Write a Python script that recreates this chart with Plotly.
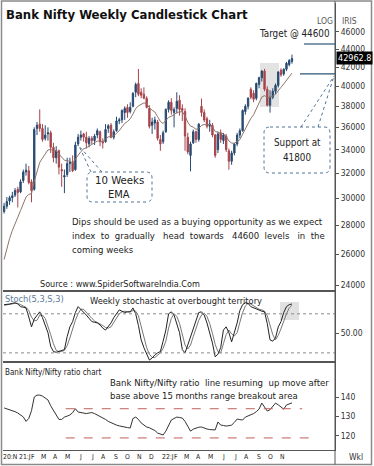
import pandas as pd
import plotly.graph_objects as go

# ---------------- data ----------------
first_week = "2020-11-16"
opens = [29000, 29400, 29800, 30050, 30250, 30700, 30500, 31400, 32100, 32200,
         31300, 30700, 35900, 36300, 35900, 35000, 35400, 35500, 34200, 33300,
         33900, 32300, 31700, 31900, 32800, 32900, 32300, 34500, 35100, 35400,
         35100, 34500, 35000, 34800, 35300, 35600, 34700, 34700, 35900, 36200,
         35100, 35700, 36600, 36700, 37400, 37900, 37500, 38000, 39400, 40300,
         39400, 39200, 38800, 37800, 36200, 36400, 36500, 34900, 34700, 35600,
         37700, 38400, 37400, 37800, 38600, 37800, 37500, 35100, 33500, 34600,
         35600, 34900, 38000, 37400, 36800, 36100, 36200, 35300, 34000, 35500,
         34800, 35200, 33900, 33000, 33700, 34500, 35300, 35700, 37500, 38000,
         39700, 39300, 38800, 40200, 40900, 41600, 39700, 38100, 38900, 39500,
         40100, 41700, 41300, 41800, 42300, 42650]
highs = [29650, 30100, 30200, 30500, 30800, 30900, 31500, 32300, 32800, 32600,
         31500, 36000, 36500, 37700, 36300, 36200, 36000, 35700, 34600, 34300,
         34000, 32800, 32300, 33300, 33300, 33500, 34700, 35400, 35700, 35500,
         35600, 35200, 35200, 35400, 35900, 35700, 35000, 36300, 36300, 36400,
         35800, 37000, 36900, 37700, 38000, 38200, 38400, 39400, 40400, 41829,
         39800, 39900, 39000, 38100, 36900, 37000, 36700, 35300, 35700, 37800,
         38600, 38800, 37900, 39400, 39100, 38200, 37800, 35500, 34700, 35800,
         35700, 36400, 38765, 37700, 37000, 36700, 36400, 35400, 35600, 35800,
         35500, 35400, 34100, 33900, 34600, 35500, 35900, 37700, 38200, 38900,
         39900, 39600, 40400, 41000, 41700, 41840, 40000, 39600, 39800, 40300,
         41600, 41900, 41900, 42600, 42900, 43400]
lows = [28850, 29200, 29500, 29700, 30100, 29300, 30400, 31200, 31800, 31100,
        29700, 30600, 35300, 35600, 34700, 34800, 34800, 33700, 32900, 32800,
        31900, 30900, 30405, 31700, 32100, 32100, 32200, 34300, 34800, 34700,
        34100, 34200, 34500, 34400, 35000, 34300, 34100, 34600, 35500, 35000,
        34900, 35600, 36300, 36400, 36700, 36900, 37300, 37900, 38900, 39000,
        38800, 38700, 37800, 35900, 35400, 35800, 34800, 33900, 34500, 35500,
        37400, 37200, 36000, 37300, 37100, 36600, 33900, 33600, 32155, 34500,
        34600, 34700, 37000, 36500, 35900, 35600, 35100, 33300, 33700, 34600,
        34500, 33800, 32290, 32700, 33500, 34300, 35000, 35600, 37200, 37700,
        38700, 38400, 38600, 39800, 40500, 39500, 38000, 37387, 38700, 39200,
        39900, 41000, 41100, 41600, 42100, 42400]
closes = [29400, 29750, 30050, 30200, 30600, 30450, 31300, 32100, 32250, 31250,
          30600, 35800, 36200, 35900, 34900, 35300, 35500, 34200, 33300, 33900,
          32500, 32200, 31800, 32800, 32900, 32200, 34400, 35100, 35300, 35100,
          34600, 35000, 34800, 35200, 35700, 34700, 34600, 35800, 36150, 35100,
          35600, 36600, 36700, 37600, 37800, 37400, 37900, 39300, 40200, 39200,
          39100, 38800, 37900, 36100, 36500, 36700, 35000, 34500, 35500, 37700,
          38400, 37600, 37700, 38500, 37700, 37600, 35200, 33800, 34500, 35600,
          34900, 36300, 37400, 36700, 36100, 36300, 35300, 33500, 35400, 34900,
          35300, 34000, 33000, 33700, 34500, 35300, 35700, 37600, 38000, 38800,
          38900, 38700, 40300, 40900, 41600, 39700, 38100, 38900, 39500, 40100,
          41500, 41200, 41800, 42450, 42750, 42963]
ema10 = [25636, 26384, 27050, 27623, 28164, 28580, 29074, 29624, 30101, 30310,
         30363, 31351, 32233, 32900, 33264, 33634, 33973, 34014, 33884, 33887,
         33635, 33374, 33088, 33036, 33011, 32864, 33143, 33499, 33826, 34058,
         34157, 34310, 34399, 34545, 34755, 34745, 34719, 34916, 35140, 35133,
         35218, 35469, 35693, 36040, 36360, 36549, 36795, 37250, 37786, 38043,
         38235, 38338, 38258, 37866, 37618, 37451, 37005, 36550, 36359, 36603,
         36930, 37052, 37170, 37412, 37464, 37489, 37073, 36478, 36118, 36024,
         35820, 35907, 36178, 36273, 36242, 36253, 36080, 35611, 35573, 35451,
         35424, 35165, 34771, 34576, 34562, 34696, 34879, 35374, 35851, 36387,
         36844, 37181, 37748, 38321, 38917, 39059, 38885, 38888, 38999, 39199,
         39617, 39905, 40250, 40650, 41032, 41383]
stoch_k = [94, 94, 95, 96, 97, 95, 91, 90, 89, 75,
           60, 72, 78, 83, 74, 62, 51, 30, 22, 21,
           22, 24, 25, 45, 60, 68, 82, 91, 87, 82,
           78, 73, 68, 67, 66, 63, 58, 55, 60, 66,
           74, 80, 86, 84, 82, 83, 83, 89, 80, 62,
           40, 28, 17, 9, 12, 17, 20, 22, 38, 55,
           80, 83, 78, 66, 51, 25, 20, 32, 45, 58,
           70, 82, 83, 78, 66, 50, 35, 14, 18, 28,
           55, 60, 51, 37, 50, 66, 85, 94, 97, 96,
           91, 89, 87, 86, 84, 83, 65, 40, 38, 43,
           60, 68, 82, 91, 94, 95]
stoch_d = [93, 94, 94, 95, 96, 96, 94, 92, 90, 85,
           75, 69, 70, 78, 78, 73, 62, 48, 34, 24,
           22, 22, 24, 31, 43, 58, 70, 80, 87, 87,
           82, 78, 73, 69, 67, 65, 62, 59, 58, 60,
           67, 73, 80, 83, 84, 83, 83, 85, 84, 77,
           61, 43, 28, 18, 13, 13, 16, 20, 27, 38,
           58, 73, 80, 76, 65, 47, 32, 26, 32, 45,
           58, 70, 78, 81, 76, 65, 50, 33, 22, 20,
           34, 48, 55, 49, 46, 51, 67, 82, 92, 96,
           95, 92, 89, 87, 86, 84, 77, 63, 48, 40,
           47, 57, 70, 80, 89, 93]
ratio = [134.4, 134.0, 133.5, 133.0, 132.5, 131.8, 131.0, 129.8, 127.5, 129.0,
         133.0, 140.0, 141.0, 141.0, 140.5, 139.5, 138.5, 135.5, 133.0, 131.0,
         128.5, 128.5, 129.7, 130.2, 130.8, 132.0, 134.0, 132.3, 132.0, 131.8,
         131.5, 131.8, 132.0, 131.5, 130.8, 130.2, 129.2, 128.5, 127.5, 126.8,
         126.2, 125.6, 125.2, 124.8, 124.5, 124.3, 124.1, 129.0, 129.7, 128.5,
         126.7, 125.5, 124.6, 124.2, 123.6, 122.8, 121.5, 120.8, 120.5, 122.5,
         125.0, 128.2, 129.0, 129.7, 129.5, 129.2, 127.5, 125.0, 122.5, 123.5,
         124.1, 124.5, 124.6, 124.0, 123.6, 123.3, 123.1, 123.1, 127.2, 125.6,
         125.4, 125.1, 125.3, 125.6, 127.0, 128.7, 128.4, 128.2, 129.7, 130.2,
         130.8, 131.5, 132.5, 133.8, 136.9, 134.5, 132.8, 133.5, 135.5, 136.9,
         136.0, 135.0, 133.8, 135.9, 136.5, 137.0]
price_ticks = [24000, 26000, 28000, 30000, 32000, 34000, 36000, 38000, 40000, 42000, 44000, 46000]
ratio_ticks = [120, 130, 140]
stoch_levels = [20, 80]
ratio_range_top, ratio_range_bottom = 134, 119
target_level, support_level = 44600, 41300
last_price = "42962.8"
swing_labels = [(49, "41829", "high"), (22, "30405", "low"), (68, "32155", "low"),
                (72, "38765", "high"), (82, "32290", "low"), (95, "41840", "high"),
                (97, "37387", "low")]
month_labels = ["20:N", "21:J", "F", "M", "A", "M", "J", "J", "A", "S", "O", "N", "D",
                "22:J", "F", "M", "A", "M", "J", "J", "A", "S", "O", "N"]
month_starts = (["2020-11-01"]
                + [f"2021-{m:02d}-01" for m in range(1, 13)]
                + [f"2022-{m:02d}-01" for m in range(1, 12)])

# ---------------- layout helpers ----------------
W, H = 374, 466
PL, PR, PT, PB = 3, 335, 3, 450
FONT = "DejaVu Sans Condensed, DejaVu Sans, sans-serif"
UP, DN = "#284a70", "#a8444a"
NB = "\u00a0"

def xp(px):
    return (px - PL) / (PR - PL)

def yp(py):
    return (PB - py) / (PB - PT)

dates = pd.date_range(first_week, periods=len(closes), freq="7D")
t0 = pd.Timestamp(first_week)
def wk(i):
    return t0 + pd.Timedelta(days=7 * i)

x_lo, x_hi = wk(-0.4), wk(120.7)
d_price = [yp(291), 1]
d_stoch = [yp(362), yp(291)]
d_ratio = [0, yp(362)]

fig = go.Figure()
fig.add_trace(go.Candlestick(
    x=dates, open=opens, high=highs, low=lows, close=closes,
    increasing=dict(line=dict(color=UP, width=1), fillcolor=UP),
    decreasing=dict(line=dict(color=DN, width=1), fillcolor=DN),
    whiskerwidth=0, xaxis="x", yaxis="y", showlegend=False, hoverinfo="skip"))
fig.add_trace(go.Scatter(x=dates, y=ema10, mode="lines", line=dict(color="#8e746a", width=1),
                         xaxis="x", yaxis="y", showlegend=False, hoverinfo="skip"))
fig.add_trace(go.Scatter(x=dates, y=stoch_d, mode="lines", line=dict(color="#777777", width=1),
                         xaxis="x2", yaxis="y2", showlegend=False, hoverinfo="skip"))
fig.add_trace(go.Scatter(x=dates, y=stoch_k, mode="lines", line=dict(color="#222222", width=1),
                         xaxis="x2", yaxis="y2", showlegend=False, hoverinfo="skip"))
fig.add_trace(go.Scatter(x=dates, y=ratio, mode="lines", line=dict(color="#333333", width=1),
                         xaxis="x3", yaxis="y3", showlegend=False, hoverinfo="skip"))

axis_common = dict(showgrid=False, zeroline=False, showline=True, linecolor="#555555", linewidth=1)
ytick_common = dict(side="right", ticks="outside", ticklen=3, tickcolor="#555555",
                    tickfont=dict(family=FONT, size=8.5, color="#333333"))
fig.update_layout(
    width=W, height=H, paper_bgcolor="white", plot_bgcolor="white",
    margin=dict(l=PL, r=W - PR, t=PT, b=H - PB),
    xaxis=dict(domain=[0, 1], anchor="y", type="date", range=[x_lo, x_hi], showticklabels=False,
               rangeslider=dict(visible=False), **axis_common),
    xaxis2=dict(domain=[0, 1], anchor="y2", matches="x", showticklabels=False, mirror=True, **axis_common),
    xaxis3=dict(domain=[0, 1], anchor="y3", matches="x", showticklabels=False, mirror=True, **axis_common),
    yaxis=dict(domain=d_price, anchor="x", type="log",
               range=[4.3737, 4.6951], tickvals=price_ticks,
               ticktext=[str(v) for v in price_ticks], **ytick_common, **axis_common),
    yaxis2=dict(domain=d_stoch, anchor="x2", range=[6, 115], tickvals=[50], ticktext=["50.00"],
                **ytick_common, **axis_common),
    yaxis3=dict(domain=d_ratio, anchor="x3", range=[112.8, 158], tickvals=ratio_ticks,
                **ytick_common, **axis_common),
)

shapes = []
# outer frame and right axis divider
shapes.append(dict(type="rect", xref="paper", yref="paper", x0=xp(1.5), x1=xp(371.5), y0=yp(464.5), y1=yp(1),
                   line=dict(color="#8a8a8a", width=1.5), layer="above"))
shapes.append(dict(type="line", xref="paper", yref="paper", x0=1, x1=1, y0=yp(464.5), y1=yp(1),
                   line=dict(color="#555555", width=1)))
# grey highlight boxes
shapes.append(dict(type="rect", xref="paper", yref="paper", x0=xp(260), x1=xp(279), y0=yp(107), y1=yp(63),
                   fillcolor="#d9d9d9", opacity=0.75, line=dict(width=0), layer="below"))
shapes.append(dict(type="rect", xref="paper", yref="paper", x0=xp(280), x1=xp(299), y0=yp(320), y1=yp(302),
                   fillcolor="#dcdcdc", opacity=0.85, line=dict(width=0), layer="below"))
# target / support lines
shapes.append(dict(type="line", xref="paper", yref="y", x0=xp(304), x1=1, y0=target_level, y1=target_level,
                   line=dict(color="#2f5577", width=1.2)))
shapes.append(dict(type="line", xref="paper", yref="y", x0=xp(300), x1=1, y0=support_level, y1=support_level,
                   line=dict(color="#2f5577", width=1.2)))
# stochastic reference levels
for lv in stoch_levels:
    shapes.append(dict(type="line", xref="x2 domain", yref="y2", x0=0, x1=1, y0=lv, y1=lv,
                       line=dict(color="#8a8a8a", width=1, dash="dot")))
# ratio range lines
shapes.append(dict(type="line", xref="x3", yref="y3", x0=wk(22.5), x1=wk(108.7),
                   y0=ratio_range_top, y1=ratio_range_top, line=dict(color="#c0605a", width=1, dash="dash")))
shapes.append(dict(type="line", xref="x3", yref="y3", x0=wk(22.5), x1=wk(111.6),
                   y0=ratio_range_bottom, y1=ratio_range_bottom, line=dict(color="#c0605a", width=1, dash="dash")))

def rounded_box(x0, y0, x1, y1, r=6):
    X0, X1 = xp(x0), xp(x1)
    Y0, Y1 = yp(y0), yp(y1)
    rx = r / (PR - PL)
    ry = r / (PB - PT)
    return (f"M {X0+rx},{Y0} L {X1-rx},{Y0} Q {X1},{Y0} {X1},{Y0-ry} "
            f"L {X1},{Y1+ry} Q {X1},{Y1} {X1-rx},{Y1} L {X0+rx},{Y1} "
            f"Q {X0},{Y1} {X0},{Y1+ry} L {X0},{Y0-ry} Q {X0},{Y0} {X0+rx},{Y0} Z")

callout = dict(color="#4f7396", width=1, dash="dot")
shapes.append(dict(type="path", xref="paper", yref="paper", path=rounded_box(87, 172, 152, 202),
                   line=callout, fillcolor="white"))
shapes.append(dict(type="line", xref="paper", yref="paper", x0=xp(91), y0=yp(172), x1=xp(79), y1=yp(146), line=callout))
shapes.append(dict(type="line", xref="paper", yref="paper", x0=xp(102), y0=yp(172), x1=xp(79), y1=yp(146), line=callout))
shapes.append(dict(type="path", xref="paper", yref="paper", path=rounded_box(264, 127, 330, 173),
                   line=callout, fillcolor="white"))
shapes.append(dict(type="line", xref="paper", yref="paper", x0=xp(301), y0=yp(127), x1=xp(334), y1=yp(76), line=callout))
shapes.append(dict(type="line", xref="paper", yref="paper", x0=xp(318), y0=yp(127), x1=xp(334), y1=yp(76), line=callout))
fig.update_layout(shapes=shapes)

anns = []
def ann(text, x, y, size=9.5, color="#222222", xanchor="left", yanchor="middle", bold=False, **kw):
    t = f"<b>{text}</b>" if bold else text
    d = dict(text=t, xref="paper", yref="paper", x=xp(x), y=yp(y), xanchor=xanchor, yanchor=yanchor,
             showarrow=False, font=dict(family=FONT, size=size, color=color))
    d.update(kw)
    anns.append(d)

def spread(words, extra):
    out = words[0]
    for w, e in zip(words[1:], extra):
        out += " " + NB * e + w
    return out

ann("Bank Nifty Weekly Candlestick Chart", 4, 15, size=13, color="#111111", bold=True)
ann("LOG", 325, 21, size=8.5, color="#555555", xanchor="center")
ann("IRIS", 349, 21, size=8.5, color="#555555", xanchor="center")
ann("Target @ 44600", 294, 33, size=9.8, xanchor="center")
ann(last_price, 336, 58.5, size=9, color="white", bgcolor="black", borderpad=1)
ann("10 Weeks", 119.5, 180, size=11.3, xanchor="center")
ann("EMA", 119.5, 194, size=11, xanchor="center")
ann("Support at", 297, 143, size=9.8, xanchor="center")
ann("41800", 297, 157, size=9.8, xanchor="center")
ann("Dips should be used as a buying opportunity as we expect", 70, 221, size=9.5)
ann(spread("index to gradually head towards 44600 levels in the".split(" "), [1, 1, 2, 1, 2, 1, 2, 1]),
    70, 235, size=9.5)
ann("coming weeks", 70, 249, size=9.5)
ann("Source : www.SpiderSoftwareIndia.Com", 38, 284, size=9)
ann("Stoch(5,3,S,3)", 3, 298, size=9.2, color="#5b7b9b")
ann("Weekly stochastic at overbought territory", 88, 300, size=9.2)
ann("Bank Nifty/Nifty ratio chart", 3, 372, size=8)
ann(spread("Bank Nifty/Nifty ratio line resuming up move after".split(" "), [0, 0, 1, 0, 1, 0, 0]),
    108, 382, size=9.5)
ann("base above 15 months range breakout area", 108, 395, size=9.5)
ann("Wkl", 356, 457, size=8.5, color="#333333", xanchor="center")

for i, txt, kind in swing_labels:
    if kind == "high":
        anns.append(dict(text=txt, x=wk(i), y=highs[i], xref="x", yref="y", yanchor="bottom", yshift=0,
                         showarrow=False, font=dict(family=FONT, size=7.5, color="#222222")))
    else:
        anns.append(dict(text=txt, x=wk(i), y=lows[i], xref="x", yref="y", yanchor="top", yshift=-1,
                         showarrow=False, font=dict(family=FONT, size=7.5, color="#222222")))

for lab, ds in zip(month_labels, month_starts):
    d = pd.Timestamp(ds)
    base = dict(text=lab, y=yp(457), xref="x", yref="paper", yanchor="middle", showarrow=False,
                borderpad=0, font=dict(family=FONT, size=6.8, color="#222222"))
    if d < x_lo:
        base.update(x=x_lo, xanchor="left", xshift=-1.5)
    elif ":" in lab:
        base.update(x=d, xanchor="right", xshift=10)
    else:
        base.update(x=d, xanchor="right", xshift=2)
    anns.append(base)

fig.update_layout(annotations=anns)
fig.write_html("out.html", config={"displayModeBar": False},
               post_script="document.body.style.margin='0';document.body.style.overflow='hidden';")
